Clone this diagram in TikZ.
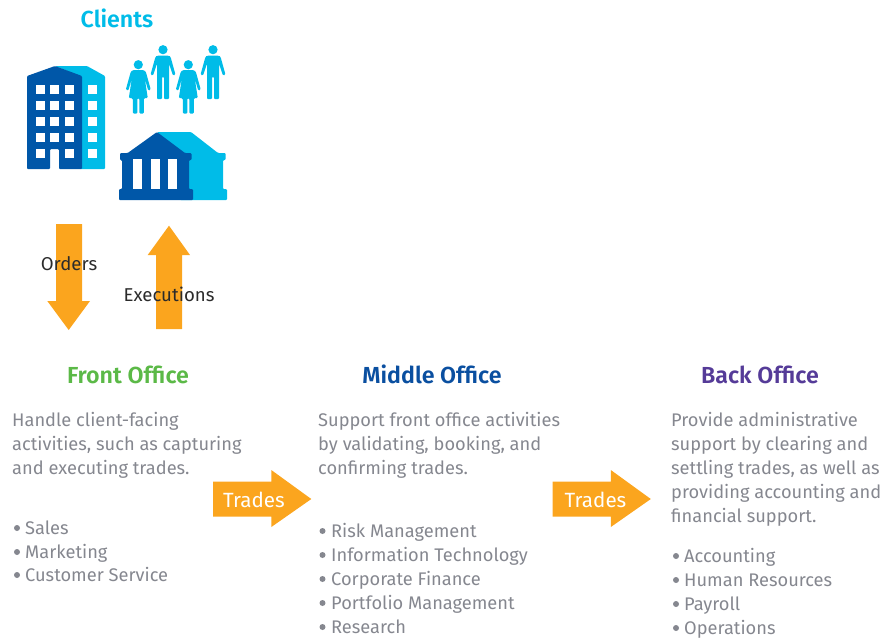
\documentclass[tikz,border=0pt]{standalone}
\usepackage{fontspec}
\setmainfont{Fira Sans}[BoldFont=Fira Sans SemiBold]
\definecolor{cyanC}{HTML}{00BCE8}
\definecolor{navyC}{HTML}{0057A8}
\definecolor{orangeC}{HTML}{FBA51E}
\definecolor{greyC}{HTML}{85878F}
\definecolor{inkC}{HTML}{2B2B2B}
\definecolor{greenC}{HTML}{5BB947}
\definecolor{blueC}{HTML}{0A4FA0}
\definecolor{purpleC}{HTML}{553B98}
\tikzset{
  head/.style={font=\bfseries\fontsize{23.2}{24}\selectfont,inner sep=0pt,anchor=base},
  body/.style={font=\fontsize{18.25}{24}\selectfont,text=greyC,inner sep=0pt,anchor=base west,align=left},
  tag/.style={font=\fontsize{18.6}{24}\selectfont,text=inkC,inner sep=0pt},
  dot/.style={fill=greyC},
  blockarrow/.style={fill=orangeC},
}
% one person, drawn about the top of the head
\newcommand{\male}[2]{
  \fill[cyanC] (#1,#2) circle (4.6);
  \fill[cyanC,rounded corners=1.2] (#1-6,#2+6) -- (#1+6,#2+6) -- (#1+7.5,#2+7) -- (#1+12.5,#2+25) -- (#1+10,#2+26) -- (#1+6,#2+14)
    -- (#1+6,#2+49.5) -- (#1+1,#2+49.5) -- (#1+1,#2+27) -- (#1-1,#2+27) -- (#1-1,#2+49.5) -- (#1-6,#2+49.5) -- (#1-6,#2+14)
    -- (#1-10,#2+26) -- (#1-12.5,#2+25) -- (#1-7.5,#2+7) -- cycle;
}
\newcommand{\female}[2]{
  \fill[cyanC] (#1,#2) circle (4.6);
  \fill[cyanC,rounded corners=1.2] (#1-6,#2+5.5) -- (#1+6,#2+5.5) -- (#1+7.5,#2+7) -- (#1+12.5,#2+25) -- (#1+10,#2+26) -- (#1+6.5,#2+14)
    -- (#1+9.5,#2+33.5) -- (#1+5.5,#2+33.5) -- (#1+5.5,#2+49) -- (#1+1,#2+49) -- (#1+1,#2+33.5) -- (#1-1,#2+33.5) -- (#1-1,#2+49) -- (#1-5.5,#2+49) -- (#1-5.5,#2+33.5) -- (#1-9.5,#2+33.5) -- (#1-6.5,#2+14)
    -- (#1-10,#2+26) -- (#1-12.5,#2+25) -- (#1-7.5,#2+7) -- cycle;
}
\begin{document}
\begin{tikzpicture}[x=1pt,y=-1pt,line join=round]
  \useasboundingbox (0,0) rectangle (882,638);
  \node[head,text=cyanC] (clients) at (117,27) {Clients};
  % office block
  \fill[cyanC,rounded corners=1] (55,66) -- (87,66) -- (105,76) -- (105,169) -- (80,169) -- (80,76) -- cycle;
  \fill[navyC,rounded corners=1] (55,66) -- (82,76) -- (82,169) -- (59,169) -- (59,149) -- (50,149) -- (50,169) -- (27,169) -- (27,76) -- cycle;
  \foreach \y in {85,101,117,133,149} {
    \foreach \x in {36,65} \fill[white] (\x,\y) rectangle +(8.5,8.5);
    \fill[white] (88,\y) rectangle +(9,8.5);
  }
  \foreach \y in {85,101,117,133} \fill[white] (50,\y) rectangle +(8.5,8.5);
  % people
  \female{138.3}{64.7}
  \male{163}{49.7}
  \female{188.3}{64.7}
  \male{213}{49.7}
  % bank
  \fill[cyanC,rounded corners=1] (157,132) -- (191,132) -- (218,153) -- (225.7,153) -- (225.7,160) -- (223,160) -- (223,189) -- (227,189) -- (227,200) -- (180,200) -- (180,153) -- cycle;
  \fill[navyC,rounded corners=1] (157,132) -- (185,153) -- (191.5,153) -- (191.5,160) -- (189,160) -- (189,189) -- (193,189) -- (193,200) -- (119,200) -- (119,189) -- (122,189) -- (122,160) -- (120,160) -- (120,153) -- (127.7,153) -- cycle;
  \foreach \x in {133,151,168} \fill[white] (\x,159) rectangle +(9,30);
  % orders and executions
  \fill[blockarrow] (56,224) -- (82,224) -- (82,301) -- (90,301) -- (68.7,330) -- (47.3,301) -- (56,301) -- cycle;
  \fill[blockarrow] (156,329) -- (182,329) -- (182,255) -- (190,255) -- (169,225.7) -- (147.7,255) -- (156,255) -- cycle;
  \node[tag] (orders) at (69,263.5) {Orders};
  \node[tag] (executions) at (169,294.5) {Executions};
  % trades
  \foreach \x/\t/\n in {0/254/tradesA,339.5/595.5/tradesB} {
    \fill[blockarrow] (213+\x,481.7) -- (271.3+\x,481.7) -- (271.3+\x,470) -- (311.3+\x,499) -- (271.3+\x,527) -- (271.3+\x,516.7) -- (213+\x,516.7) -- cycle;
    \node[tag,text=white,font=\fontsize{20.6}{24}\selectfont] (\n) at (\t,499.5) {Trades};
  }
  % front office
  \node[head,text=greenC] (front) at (128,383) {Front Office};
  \node[body] (frontText) at (12,474) {Handle client-facing\\activities, such as capturing\\and executing trades.};
  \foreach \y/\n/\t in {528/fa/Sales,552/fb/Marketing,575/fc/Customer Service} {
    \fill[dot] (17,\y) circle (3);
    \node[body] (\n) at (25,\y+6.5) {\t};
  }
  % middle office
  \node[head,text=blueC] (middle) at (432,383) {Middle Office};
  \node[body] (middleText) at (318,474) {Support front office activities\\by validating, booking, and\\confirming trades.};
  \foreach \y/\n/\t in {531/ma/Risk Management,555/mb/Information Technology,579/mc/Corporate Finance,603/md/Portfolio Management,627/me/Research} {
    \fill[dot] (322.5,\y) circle (3);
    \node[body] (\n) at (331,\y+6.5) {\t};
  }
  % back office
  \node[head,text=purpleC] (back) at (760,383) {Back Office};
  \node[body] (backText) at (671,522) {Provide administrative\\support by clearing and\\settling trades, as well as\\providing accounting and\\financial support.};
  \foreach \y/\n/\t in {556/ba/Accounting,580/bb/Human Resources,604/bc/Payroll,628/bd/Operations} {
    \fill[dot] (676,\y) circle (3);
    \node[body] (\n) at (684,\y+6.5) {\t};
  }
\end{tikzpicture}
\end{document}
